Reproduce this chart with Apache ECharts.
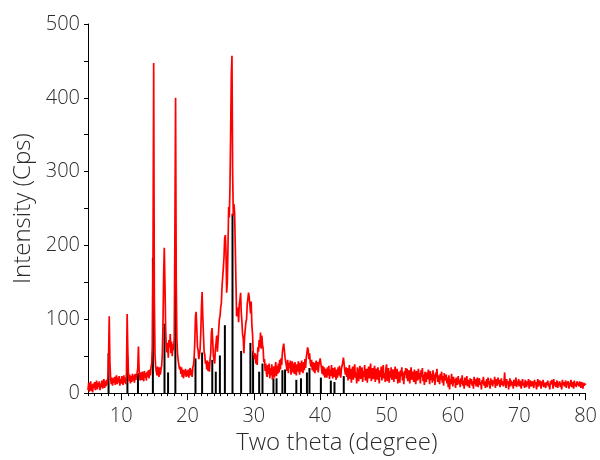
<!DOCTYPE html>
<html>
<head>
<meta charset="utf-8">
<script src="https://cdn.jsdelivr.net/npm/echarts@6/dist/echarts.min.js"></script>
<style>html,body{margin:0;padding:0;background:#fff}#c{width:600px;height:460px}</style>
</head>
<body>
<div id="c"></div>
<script>
// Measured scan: start angle, step (degrees) and intensity readings (Cps)
var scanStart = 5.0;
var scanStep = 0.1;
var intensity = [
 4,14,2,11,16,3,12,1,13,7,
 15,4,12,17,5,14,8,16,4,13,
 8,17,6,15,19,7,16,9,18,11,
 22,48,104,42,22,12,21,10,20,14,
 22,11,20,24,12,21,14,23,10,19,
 13,23,15,11,24,14,21,12,28,107,
 58,26,16,25,13,23,15,26,17,24,
 14,26,18,16,27,34,63,32,20,17,
 28,18,29,20,16,30,21,27,17,29,
 22,31,20,32,24,35,40,62,185,447,
 128,52,36,29,24,36,26,22,35,25,
 32,37,52,92,160,197,148,88,62,55,
 68,48,72,62,80,54,70,50,66,58,
 75,220,400,150,72,52,44,38,32,36,
 26,35,22,32,20,31,24,33,22,30,
 23,32,21,30,34,24,32,22,35,38,
 48,70,104,110,88,62,58,46,52,60,
 82,116,137,104,80,56,52,40,44,32,
 44,30,42,29,46,54,82,88,70,50,
 52,40,60,68,78,56,70,86,100,104,
 116,122,144,146,170,184,210,214,190,136,
 150,198,252,238,280,350,430,457,300,240,
 256,244,198,150,104,112,116,96,120,126,
 136,110,96,80,74,54,76,78,96,100,
 120,118,136,130,132,108,124,92,80,56,
 52,46,54,40,52,38,62,56,72,62,
 82,60,78,66,60,42,46,30,40,26,
 22,38,26,40,20,34,24,39,18,33,
 36,21,34,42,23,37,26,40,28,45,
 32,47,38,55,62,67,58,48,46,37,
 30,45,27,41,34,44,25,39,43,28,
 40,26,42,31,24,39,29,43,33,25,
 41,29,44,32,27,42,31,46,34,48,
 55,62,58,46,54,41,36,45,31,42,
 29,41,27,39,44,31,42,28,38,43,
 47,40,33,26,37,24,35,21,33,26,
 21,35,24,37,19,32,23,38,26,20,
 34,22,35,25,18,32,21,35,24,37,
 25,21,33,37,42,48,40,31,25,35,
 22,34,17,30,38,19,33,14,29,36,
 18,31,39,21,28,13,35,24,16,32,
 37,19,27,35,15,30,22,38,17,26,
 33,14,29,36,20,31,40,16,27,34,
 19,30,37,15,28,33,18,35,24,13,
 31,22,36,17,29,38,20,27,15,33,
 39,16,28,34,14,30,21,35,18,26,
 32,15,27,36,19,24,33,13,29,22,
 14,31,23,35,17,28,12,30,25,34,
 20,33,16,27,31,13,26,35,18,24,
 29,15,32,21,12,30,24,17,33,19,
 27,13,31,22,34,16,25,11,29,20,
 15,28,19,32,23,12,30,18,26,14,
 31,17,25,11,28,21,33,15,24,19,
 12,26,18,29,14,23,10,27,17,22,
 25,13,21,8,24,5,19,12,26,15,
 9,22,14,19,7,21,16,11,23,13,
 18,8,20,12,24,10,17,6,21,15,
 11,23,9,18,14,7,20,13,19,10,
 16,6,22,12,19,9,15,21,8,17,
 20,11,15,5,18,13,22,10,16,7,
 14,19,8,21,12,16,6,20,11,18,
 9,17,13,22,7,15,19,10,21,12,
 18,8,14,20,11,16,9,15,28,13,
 7,19,12,16,5,14,20,9,17,11,
 15,6,18,10,13,21,8,16,11,19,
 9,17,12,6,15,19,10,14,7,18,
 13,8,16,11,19,6,14,17,9,12,
 16,10,7,18,12,15,5,13,19,9,
 11,17,13,6,16,10,18,8,14,12,
 7,15,11,17,9,13,5,16,12,18,
 14,6,19,10,15,8,13,17,7,12,
 10,16,8,14,5,18,11,15,9,13,
 17,7,13,11,16,6,14,10,18,8,
 12,15,6,17,10,13,8,16,11,14,
 9,16,11,7,15,12,6,14,10,13,
 11
];
// Reference pattern sticks
var stickTheta = [8.1, 10.94, 12.53, 14.78, 16.53, 17.07, 18.17, 21.2, 22.2, 23.73, 24.26, 24.88, 25.63, 26.78, 28.08, 29.48, 29.88, 30.8, 31.3, 32.95, 33.42, 34.3, 34.7, 36.4, 37.1, 38.0, 38.38, 40.1, 41.6, 42.15, 43.55];
var stickIntensity = [54, 49, 27, 183, 94, 28, 201, 47, 55, 45, 29, 51, 92, 243, 57, 68, 57, 29, 40, 20, 20, 31, 32, 18, 20, 28, 34, 21, 17, 15, 23];
// Axis ticks
var xMajorTicks = [10, 20, 30, 40, 50, 60, 70, 80];
var yLabelTicks = [0, 100, 200, 300, 400, 500];

var scanData = intensity.map(function (v, i) {
  return [+(scanStart + i * scanStep).toFixed(2), v];
});
var stickData = stickTheta.map(function (t, i) { return [t, stickIntensity[i]]; });

var FONT = '"Open Sans", "Noto Sans", sans-serif';
var TXT = '#2b2b2b';
var chart = echarts.init(document.getElementById('c'), null, {renderer: 'canvas'});
chart.setOption({
  animation: false,
  backgroundColor: '#ffffff',
  grid: {left: 88, right: 11, top: 24, bottom: 63, containLabel: false},
  xAxis: [{
    type: 'value', min: 5, max: 80, interval: 1,
    name: 'Two theta (degree)', nameLocation: 'middle', nameGap: 36,
    nameTextStyle: {fontFamily: FONT, fontSize: 24, fontWeight: 300, color: TXT},
    axisLine: {show: true, lineStyle: {color: '#000', width: 1}},
    axisTick: {show: true, length: 3, inside: false, lineStyle: {color: '#000'}},
    axisLabel: {fontFamily: FONT, fontSize: 20, fontWeight: 300, color: TXT, margin: 13,
      formatter: function (v) { return xMajorTicks.indexOf(v) >= 0 ? String(v) : ''; }},
    splitLine: {show: false}
  }, {
    type: 'value', min: 5, max: 80, position: 'bottom',
    axisLine: {show: false},
    axisTick: {show: true, length: 7, customValues: xMajorTicks, lineStyle: {color: '#000'}},
    axisLabel: {show: false},
    splitLine: {show: false}
  }],
  yAxis: {
    type: 'value', min: 0, max: 500, interval: 50,
    name: 'Intensity (Cps)', nameLocation: 'middle', nameGap: 52, nameRotate: 90,
    nameTextStyle: {fontFamily: FONT, fontSize: 24, fontWeight: 300, color: TXT},
    axisLine: {show: true, lineStyle: {color: '#000', width: 1}},
    axisTick: {show: true, length: 4, lineStyle: {color: '#000'}},
    axisLabel: {fontFamily: FONT, fontSize: 20, fontWeight: 300, color: TXT, margin: 8,
      formatter: function (v) { return yLabelTicks.indexOf(v) >= 0 ? String(v) : ''; }},
    splitLine: {show: false}
  },
  series: [{
    type: 'line', data: scanData, xAxisIndex: 0, showSymbol: false, sampling: null,
    lineStyle: {color: '#ff0000', width: 1.7}, itemStyle: {color: '#ff0000'}
  }, {
    type: 'bar', data: stickData, xAxisIndex: 0, barWidth: 2,
    itemStyle: {color: '#000000'}
  }]
});
</script>
</body>
</html>
